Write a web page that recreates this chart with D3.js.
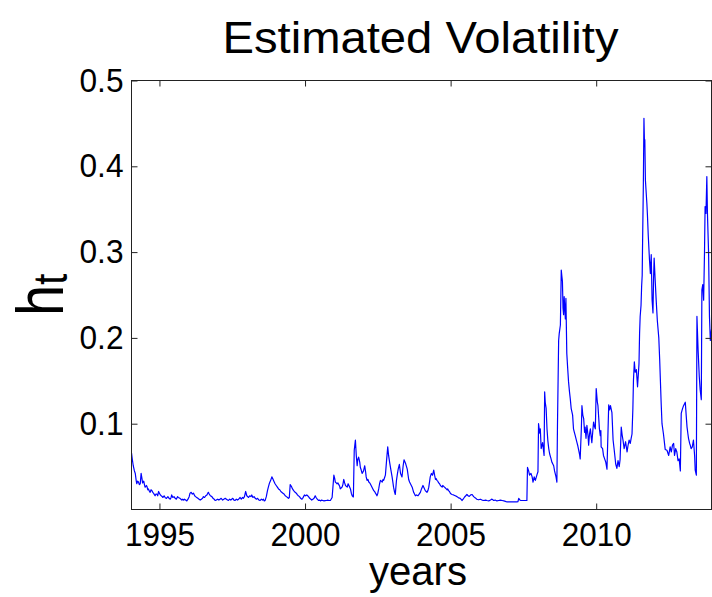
<!DOCTYPE html>
<html><head><meta charset="utf-8">
<script src="https://cdn.jsdelivr.net/npm/d3@7"></script>
<style>body{margin:0;background:#fff}</style>
</head><body>
<svg id="c" width="712" height="597"></svg>
<script>
const dates = [
1994.04,1994.07,1994.10,1994.14,1994.17,1994.20,1994.22,1994.25,1994.28,1994.31,1994.34,1994.37,1994.40,1994.42,1994.46,1994.49,1994.51,1994.55,1994.57,1994.60,1994.62,1994.66,1994.68,1994.71,1994.74,1994.77,1994.80,1994.83,1994.85,1994.88,1994.91,1994.94,1994.97,
1995.00,1995.03,1995.06,1995.08,1995.12,1995.16,1995.20,1995.24,1995.29,1995.33,1995.37,1995.40,1995.42,1995.46,1995.50,1995.54,1995.58,1995.62,1995.65,1995.70,1995.74,1995.77,1995.80,1995.83,1995.86,1995.90,1995.94,1995.98,
1996.02,1996.05,1996.09,1996.13,1996.17,1996.21,1996.24,1996.28,1996.32,1996.36,1996.40,1996.44,1996.48,1996.51,1996.55,1996.59,1996.63,1996.66,1996.68,1996.71,1996.75,1996.80,1996.84,1996.88,1996.91,1996.95,
1997.00,1997.04,1997.08,1997.12,1997.17,1997.21,1997.26,1997.30,1997.34,1997.37,1997.41,1997.45,1997.48,1997.52,1997.56,1997.60,1997.64,1997.68,1997.72,1997.77,1997.81,1997.85,1997.88,1997.92,1997.96,
1998.00,1998.03,1998.06,1998.10,1998.14,1998.17,1998.21,1998.25,1998.29,1998.33,1998.37,1998.42,1998.46,1998.50,1998.54,1998.57,1998.60,1998.63,1998.67,1998.71,1998.74,1998.78,1998.82,1998.86,1998.89,1998.93,1998.97,
1999.01,1999.05,1999.09,1999.13,1999.17,1999.20,1999.24,1999.28,1999.32,1999.36,1999.40,1999.43,1999.46,1999.49,1999.53,1999.57,1999.61,1999.66,1999.70,1999.74,1999.77,1999.81,1999.85,1999.89,1999.92,1999.95,1999.98,
2000.02,2000.06,2000.09,2000.12,2000.16,2000.20,2000.23,2000.27,2000.31,2000.35,2000.38,2000.42,2000.46,2000.50,2000.53,2000.57,2000.61,2000.65,2000.69,2000.74,2000.78,2000.82,2000.87,2000.93,2000.99,
2001.02,2001.04,2001.07,2001.10,2001.13,2001.16,2001.19,2001.21,2001.24,2001.27,2001.30,2001.33,2001.36,2001.39,2001.42,2001.45,2001.48,2001.52,2001.56,2001.59,2001.62,2001.66,2001.69,2001.71,2001.73,2001.76,2001.79,2001.81,2001.84,2001.86,2001.88,2001.90,2001.93,2001.96,
2002.01,2002.05,2002.08,2002.10,2002.13,2002.16,2002.19,2002.22,2002.24,2002.27,2002.30,2002.33,2002.36,2002.39,2002.42,2002.44,2002.47,2002.50,2002.53,2002.56,2002.59,2002.62,2002.65,2002.68,2002.70,2002.73,2002.76,2002.80,2002.84,2002.87,2002.91,2002.95,2002.99,
2003.02,2003.04,2003.07,2003.10,2003.14,2003.17,2003.20,2003.24,2003.28,2003.33,2003.37,2003.40,2003.45,2003.51,2003.56,2003.59,2003.62,2003.65,2003.68,2003.73,2003.76,2003.79,2003.83,2003.88,2003.92,2003.96,
2004.00,2004.05,2004.09,2004.13,2004.16,2004.19,2004.22,2004.25,2004.28,2004.30,2004.34,2004.38,2004.42,2004.45,2004.48,2004.50,2004.53,2004.56,2004.59,2004.62,2004.65,2004.68,2004.71,2004.73,2004.76,2004.79,2004.82,2004.85,2004.88,2004.90,2004.93,2004.96,2004.99,
2005.02,2005.05,2005.10,2005.16,2005.22,2005.28,2005.33,2005.39,2005.43,2005.48,2005.52,2005.56,2005.60,2005.64,2005.69,2005.74,2005.79,2005.85,2005.90,2005.96,
2006.02,2006.08,2006.14,2006.20,2006.25,2006.31,2006.37,2006.42,2006.48,2006.53,2006.59,2006.65,2006.71,2006.77,2006.83,2006.88,2006.94,
2007.00,2007.06,2007.11,2007.17,2007.22,2007.28,2007.31,2007.34,2007.38,2007.41,2007.45,2007.50,2007.55,2007.60,2007.62,2007.64,2007.68,2007.71,2007.76,2007.80,2007.83,2007.87,2007.91,2007.97,
2008.00,2008.02,2008.06,2008.08,2008.11,2008.16,2008.21,2008.23,2008.25,2008.28,2008.31,2008.34,2008.37,2008.40,2008.45,2008.48,2008.54,2008.57,2008.62,2008.65,2008.67,2008.71,2008.73,2008.77,2008.80,2008.82,2008.84,2008.86,2008.88,2008.90,2008.92,2008.94,2008.96,2008.99,
2009.02,2009.05,2009.08,2009.11,2009.14,2009.19,2009.22,2009.25,2009.28,2009.31,2009.34,2009.37,2009.40,2009.43,2009.45,2009.49,2009.51,2009.54,2009.57,2009.60,2009.62,2009.65,2009.68,2009.72,2009.74,2009.77,2009.80,2009.83,2009.85,2009.88,2009.91,2009.94,2009.97,
2010.00,2010.04,2010.06,2010.09,2010.11,2010.14,2010.16,2010.17,2010.22,2010.25,2010.29,2010.33,2010.37,2010.43,2010.46,2010.49,2010.54,2010.58,2010.62,2010.67,2010.71,2010.75,2010.79,2010.82,2010.86,2010.89,2010.92,2010.96,
2011.01,2011.06,2011.09,2011.13,2011.17,2011.20,2011.23,2011.26,2011.28,2011.31,2011.34,2011.38,2011.42,2011.47,2011.49,2011.51,2011.54,2011.56,2011.58,2011.59,2011.62,2011.64,2011.66,2011.67,2011.69,2011.71,2011.74,2011.76,2011.79,2011.83,2011.86,2011.89,2011.92,2011.95,2011.97,2011.99,
2012.02,2012.06,2012.10,2012.15,2012.18,2012.20,2012.23,2012.26,2012.31,2012.37,2012.43,2012.49,2012.54,2012.58,2012.62,2012.66,2012.69,2012.73,2012.77,2012.81,2012.85,2012.89,2012.92,2012.96,
2013.00,2013.06,2013.09,2013.12,2013.15,2013.17,2013.21,2013.23,2013.26,2013.30,2013.34,2013.38,2013.40,2013.44,2013.46,2013.48,2013.50,2013.54,2013.57,2013.61,2013.63,2013.66,2013.69,2013.72,2013.74,2013.77,2013.80,2013.82,2013.86,2013.89,2013.92,2013.96
];
const vol = [
.066,.058,.051,.045,.042,.034,.030,.033,.032,.029,.030,.042,.036,.031,.033,.028,.026,.028,.027,.023,.024,.021,.020,.023,.022,.020,.019,.017,.016,.018,.018,.016,.021,
.019,.017,.016,.0155,.014,.016,.0137,.013,.015,.013,.012,.014,.017,.014,.015,.013,.012,.015,.014,.013,.012,.011,.012,.011,.012,.011,.010,.012,
.015,.019,.020,.018,.019,.016,.015,.014,.013,.012,.011,.012,.013,.015,.014,.016,.017,.019,.020,.018,.016,.015,.013,.012,.0106,.011,
.012,.011,.012,.013,.011,.012,.013,.012,.011,.0106,.012,.011,.012,.013,.011,.0106,.012,.011,.012,.014,.012,.014,.013,.015,.021,
.016,.015,.014,.016,.015,.017,.014,.015,.013,.012,.013,.011,.0106,.012,.011,.012,.010,.0106,.015,.022,.026,.031,.034,.038,.036,.033,.030,
.028,.026,.024,.023,.021,.020,.019,.018,.016,.015,.014,.013,.014,.029,.027,.024,.022,.020,.019,.017,.016,.015,.013,.012,.013,.015,.017,
.016,.017,.016,.015,.013,.012,.011,.012,.013,.016,.014,.012,.0106,.011,.010,.011,.0105,.010,.0104,.0105,.011,.0105,.0105,.014,.040,
.036,.032,.031,.030,.031,.029,.027,.024,.025,.026,.029,.035,.031,.028,.027,.026,.030,.027,.024,.019,.016,.0146,.069,.075,.081,.063,.051,.058,.061,.058,.055,.049,.046,.042,
.045,.051,.044,.038,.034,.035,.032,.031,.030,.028,.026,.024,.022,.021,.019,.018,.016,.019,.024,.030,.034,.033,.032,.035,.034,.037,.040,.057,.073,.063,.054,.046,.038,
.031,.026,.021,.0175,.034,.041,.047,.0525,.042,.038,.051,.058,.054,.047,.035,.032,.030,.028,.026,.020,.018,.016,.017,.016,.018,.020,
.024,.028,.025,.022,.021,.020,.022,.026,.033,.038,.042,.040,.046,.040,.035,.036,.034,.033,.031,.030,.028,.027,.026,.028,.027,.026,.025,.024,.023,.024,.022,.021,.019,
.018,.0175,.017,.016,.015,.0135,.013,.0105,.012,.0146,.016,.0175,.016,.0152,.017,.0175,.015,.0135,.012,.0113,
.012,.011,.0105,.011,.0105,.010,.011,.0121,.0105,.011,.010,.0105,.011,.0105,.010,.0095,.0088,
.009,.0088,.0088,.009,.0088,.0088,.009,.013,.011,.0105,.0105,.0105,.0105,.0105,.0105,.049,.045,.040,.042,.038,.032,.038,.034,.041,
.044,.100,.089,.094,.071,.078,.063,.137,.125,.118,.094,.080,.071,.065,.059,.055,.051,.045,.038,.032,.098,.197,.205,.215,.279,.272,.266,.235,.227,.248,.235,.222,.246,.182,
.165,.149,.138,.129,.118,.110,.094,.090,.086,.082,.078,.074,.069,.064,.059,.094,.121,.110,.106,.090,.096,.083,.098,.086,.075,.088,.094,.084,.078,.090,.102,.097,.094,
.141,.125,.121,.105,.094,.086,.092,.073,.071,.063,.059,.055,.047,.122,.116,.121,.113,.081,.069,.053,.048,.057,.050,.058,.096,.087,.081,.071,
.079,.067,.074,.081,.077,.083,.088,.118,.151,.172,.160,.163,.143,.170,.205,.225,.238,.260,.273,.303,.380,.456,.423,.431,.384,.373,.357,.343,.318,.291,.275,.297,.244,.229,.268,.293,
.271,.244,.220,.200,.175,.155,.125,.100,.088,.070,.069,.063,.073,.067,.075,.077,.063,.071,.067,.057,.059,.045,.112,.117,
.121,.125,.110,.096,.088,.083,.077,.075,.071,.073,.081,.063,.046,.040,.225,.205,.186,.155,.140,.128,.256,.262,.244,.300,.353,.345,.388,.346,.299,.225,.197,.210
];
const xTicks = [1995, 2000, 2005, 2010];
const yTicks = [0.1, 0.2, 0.3, 0.4, 0.5];
const titleText = "Estimated Volatility";
const xLabelText = "years";
const yLabelMain = "h";
const yLabelSub = "t";

const font = "'Liberation Sans', Arial, Helvetica, sans-serif";
const svg = d3.select("#c");
const L = 131.5, R = 711.5, T = 80.5, B = 509.5;
const x = d3.scaleLinear().domain([1994.04, 2013.96]).range([L, R]);
const y = d3.scaleLinear().domain([0, 0.5]).range([B, T]);

svg.append("rect").attr("width", 712).attr("height", 597).attr("fill", "#fff");
svg.append("clipPath").attr("id", "cp").append("rect")
  .attr("x", L).attr("y", T).attr("width", R - L).attr("height", B - T);

const data = dates.map((d, i) => ({ d, v: vol[i] }));
svg.append("path").datum(data)
  .attr("clip-path", "url(#cp)")
  .attr("fill", "none").attr("stroke", "#0000ff").attr("stroke-width", 1.2)
  .attr("stroke-linejoin", "round")
  .attr("d", d3.line().x(p => x(p.d)).y(p => y(p.v)));

const axisColor = "#222";
function styleAxis(g) {
  g.select(".domain").remove();
  g.selectAll(".tick line").attr("stroke", axisColor);
  g.attr("font-family", font).attr("font-size", 33);
  g.selectAll("text").attr("fill", "#000");
}
const gb = svg.append("g").attr("transform", `translate(0,${B})`)
  .call(d3.axisBottom(x).tickValues(xTicks).tickSize(-6).tickPadding(13).tickFormat(d3.format("d")));
styleAxis(gb);
gb.selectAll("text").attr("textLength", 70).attr("lengthAdjust", "spacingAndGlyphs");
const gt = svg.append("g").attr("transform", `translate(0,${T})`)
  .call(d3.axisTop(x).tickValues(xTicks).tickSize(-6).tickFormat(""));
styleAxis(gt);
const gl = svg.append("g").attr("transform", `translate(${L},0)`)
  .call(d3.axisLeft(y).tickValues(yTicks).tickSize(-6).tickPadding(8).tickFormat(d3.format(".1f")));
styleAxis(gl);
gl.selectAll("text").attr("textLength", 44).attr("lengthAdjust", "spacingAndGlyphs");
const gr = svg.append("g").attr("transform", `translate(${R},0)`)
  .call(d3.axisRight(y).tickValues(yTicks).tickSize(-6).tickFormat(""));
styleAxis(gr);

svg.append("rect").attr("x", L).attr("y", T).attr("width", R - L).attr("height", B - T)
  .attr("fill", "none").attr("stroke", axisColor).attr("stroke-width", 1);

svg.append("text").attr("x", 420.5).attr("y", 53).attr("text-anchor", "middle")
  .attr("font-family", font).attr("font-size", 45).attr("fill", "#000")
  .attr("textLength", 396).attr("lengthAdjust", "spacingAndGlyphs").text(titleText);

svg.append("text").attr("x", 418).attr("y", 585).attr("text-anchor", "middle")
  .attr("font-family", font).attr("font-size", 41).attr("fill", "#000")
  .attr("textLength", 98).attr("lengthAdjust", "spacingAndGlyphs").text(xLabelText);

const yl = svg.append("text").attr("transform", "translate(63,316) scale(1.2,1) rotate(-90)")
  .attr("font-family", font).attr("font-size", 56).attr("fill", "#000");
yl.append("tspan").text(yLabelMain);
yl.append("tspan").attr("font-size", 40).attr("dy", 3).text(yLabelSub);
</script>
</body></html>
